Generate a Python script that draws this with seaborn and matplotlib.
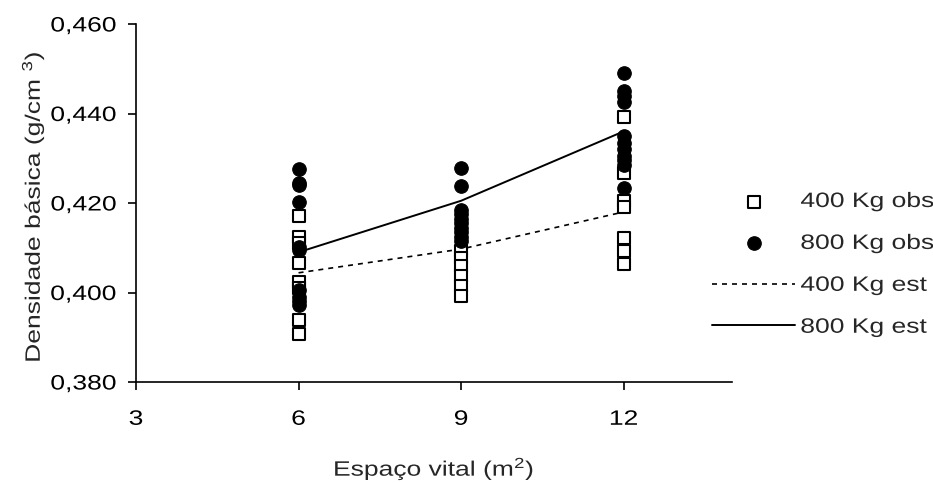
import matplotlib
matplotlib.use("Agg")
import matplotlib.pyplot as plt
import seaborn as sns
import pandas as pd
from matplotlib.ticker import FuncFormatter
from matplotlib.patheffects import AbstractPathEffect
from matplotlib.transforms import Affine2D

x_400_obs = [6] * 8 + [9] * 6 + [12] * 7
y_400_obs = [0.4172, 0.4125, 0.4110, 0.4067, 0.4024, 0.4010, 0.3939, 0.3907,
             0.4093, 0.4078, 0.4060, 0.4037, 0.4015, 0.3992,
             0.4392, 0.4266, 0.4205, 0.4192, 0.4122, 0.4093, 0.4064]
x_800_obs = [6] * 10 + [9] * 10 + [12] * 11
y_800_obs = [0.4275, 0.4245, 0.4240, 0.4203, 0.4102, 0.4095, 0.4005, 0.3990, 0.3980, 0.3972,
             0.4279, 0.4238, 0.4185, 0.4175, 0.4165, 0.4155, 0.4145, 0.4135, 0.4125, 0.4115,
             0.4490, 0.4450, 0.4440, 0.4425, 0.4350, 0.4335, 0.4320, 0.4305, 0.4295, 0.4285, 0.4233]

# estimated curves
x_est = [6, 9, 12]
y_400_est = [0.4044, 0.4097, 0.4180]
y_800_est = [0.4090, 0.4205, 0.4360]


class Stretch(AbstractPathEffect):
    # widen text along its own direction (the original uses a wide sans font)
    def __init__(self, sx=1.25, anchor='center'):
        super().__init__()
        self.sx = sx
        self.anchor = anchor

    def draw_path(self, renderer, gc, tpath, affine, rgbFace=None):
        ext = tpath.get_extents()
        if self.anchor == 'left':
            x0 = ext.x0
        elif self.anchor == 'right':
            x0 = ext.x1
        else:
            x0 = (ext.x0 + ext.x1) / 2
        t = Affine2D().translate(-x0, 0).scale(self.sx, 1).translate(x0, 0)
        renderer.draw_path(gc, tpath, t + affine, rgbFace)


FS = 15
SX = 1.27

sns.set_style("white")
plt.rcParams['font.family'] = ['Liberation Sans', 'DejaVu Sans']
plt.rcParams['mathtext.default'] = 'regular'

fig = plt.figure(figsize=(9.33, 4.83), dpi=100)
ax = fig.add_axes([136 / 933, 1 - 382 / 483, (732 - 136) / 933, (382 - 24) / 483])

obs400 = pd.DataFrame({'x': x_400_obs, 'y': y_400_obs})
obs800 = pd.DataFrame({'x': x_800_obs, 'y': y_800_obs})
est = pd.DataFrame({'x': x_est, 'y400': y_400_est, 'y800': y_800_est})

sns.lineplot(data=est, x='x', y='y400', ax=ax, color='black', lw=1.2,
             linestyle=(0, (3, 3)), zorder=2, label='400 Kg est')
sns.lineplot(data=est, x='x', y='y800', ax=ax, color='black', lw=1.4,
             zorder=2, label='800 Kg est')
sns.scatterplot(data=obs400, x='x', y='y', ax=ax, marker='s', s=70,
                facecolor='white', edgecolor='black', linewidth=1.5,
                zorder=3, label='400 Kg obs')
sns.scatterplot(data=obs800, x='x', y='y', ax=ax, marker='o', s=95,
                color='black', edgecolor='black', zorder=4, label='800 Kg obs')

ax.set_xlim(3, 14)
ax.set_ylim(0.380, 0.460)
ax.set_xticks([3, 6, 9, 12])
ax.set_yticks([0.380, 0.400, 0.420, 0.440, 0.460])
ax.yaxis.set_major_formatter(FuncFormatter(lambda v, p: f"{v:.3f}".replace('.', ',')))
ax.tick_params(direction='out', length=6, width=1.2, labelsize=FS, colors='black',
               bottom=True, left=True)
ax.tick_params(axis='x', pad=14)
ax.tick_params(axis='y', pad=8)
for s in ['top', 'right']:
    ax.spines[s].set_visible(False)
for s in ['left', 'bottom']:
    ax.spines[s].set_color('black')
    ax.spines[s].set_linewidth(1.2)

ax.set_xlabel('Espaço vital (m$^{2}$)', fontsize=FS)
ax.set_ylabel('Densidade básica (g/cm $^{3}$)', fontsize=FS)
ax.xaxis.set_label_coords(0.5, (382 - 456) / 358)
ax.yaxis.set_label_coords((46 - 136) / 596, 0.49)
ax.xaxis.label.set_path_effects([Stretch(SX)])
ax.yaxis.label.set_path_effects([Stretch(SX)])
for t in ax.get_xticklabels():
    t.set_path_effects([Stretch(SX)])
for t in ax.get_yticklabels():
    t.set_path_effects([Stretch(SX, 'right')])

h, l = ax.get_legend_handles_labels()
order = [l.index(n) for n in ['400 Kg obs', '800 Kg obs', '400 Kg est', '800 Kg est']]
if ax.get_legend():
    ax.get_legend().remove()
leg = fig.legend([h[i] for i in order], [l[i] for i in order], loc='upper left',
                 bbox_to_anchor=(712 / 933, 1 - 192 / 483), frameon=False, fontsize=FS,
                 handlelength=4.0, handletextpad=0.25, labelspacing=1.1, borderpad=0,
                 borderaxespad=0)
for t in leg.get_texts():
    t.set_path_effects([Stretch(SX, 'left')])

fig.savefig('out.png', dpi=100)
